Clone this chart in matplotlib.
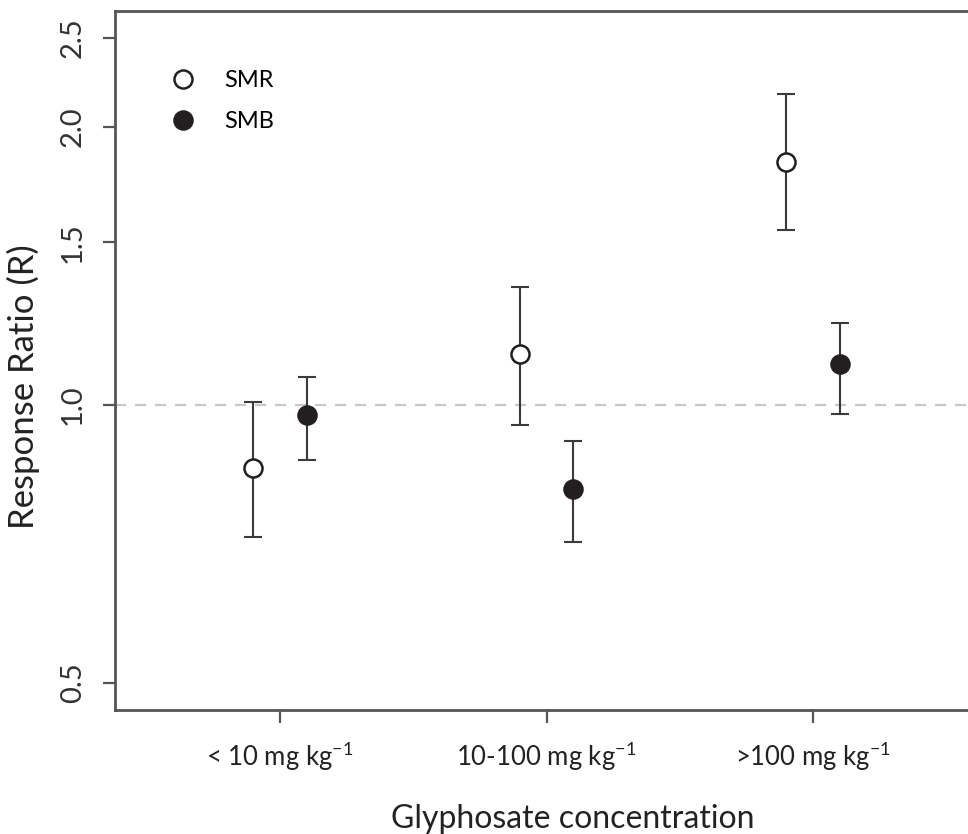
import numpy as np
import matplotlib
matplotlib.use('Agg')
import matplotlib.pyplot as plt

plt.rcParams['font.family'] = ['Lato', 'DejaVu Sans']
plt.rcParams['mathtext.default'] = 'regular'

categories = ['< 10 mg kg$^{-1}$', '10-100 mg kg$^{-1}$', '>100 mg kg$^{-1}$']

smr_mean = [0.854, 1.136, 1.832]
smr_low = [0.719, 0.952, 1.546]
smr_high = [1.007, 1.342, 2.174]

smb_mean = [0.975, 0.810, 1.107]
smb_low = [0.871, 0.711, 0.978]
smb_high = [1.073, 0.913, 1.227]

y_ticks = [0.5, 1.0, 1.5, 2.0, 2.5]

dark = '#231f20'
axis_col = '#555555'

fig = plt.figure(figsize=(9.68, 8.34), dpi=100)
ax = fig.add_axes([0.1188, 0.1487, 0.895, 0.838])

x = np.arange(1, len(categories) + 1)
offset = 0.1

# reference line at R = 1
ax.axhline(1.0, color='#c8c8c8', linewidth=1.6, linestyle=(0, (5, 4)), zorder=1)


def draw_series(xs, mean, low, high, face, label):
    mean = np.array(mean)
    err = [mean - np.array(low), np.array(high) - mean]
    ax.errorbar(xs, mean, yerr=err, fmt='none', ecolor='#3a3a3a',
                elinewidth=1.5, capsize=6.5, capthick=1.5, zorder=2)
    ax.plot(xs, mean, 'o', markersize=13, markerfacecolor=face,
            markeredgecolor=dark, markeredgewidth=1.8, linestyle='none',
            label=label, zorder=3)


draw_series(x - offset, smr_mean, smr_low, smr_high, 'white', 'SMR')
draw_series(x + offset, smb_mean, smb_low, smb_high, dark, 'SMB')

ax.set_yscale('log')
ax.set_ylim(0.467, 2.671)
ax.set_xlim(0.381, 3.631)
ax.set_yticks(y_ticks)
ax.set_yticklabels(['%.1f' % v for v in y_ticks], rotation=90, va='center',
                   fontsize=21, color='#333333')
ax.yaxis.set_minor_locator(matplotlib.ticker.NullLocator())
ax.set_xticks(x)
ax.set_xticklabels(categories, fontsize=18.5, color='#222222')

ax.tick_params(axis='y', length=9, width=1.6, color=axis_col, pad=12)
ax.tick_params(axis='x', length=9, width=1.6, color=axis_col, pad=13)

for side in ['left', 'bottom', 'top']:
    ax.spines[side].set_color(axis_col)
    ax.spines[side].set_linewidth(2)
ax.spines['right'].set_visible(False)

ax.set_ylabel('Response Ratio (R)', fontsize=25, color='#222222')
ax.yaxis.set_label_coords(-0.087, 0.462)
ax.set_xlabel('Glyphosate concentration', fontsize=23, color='#222222')
ax.xaxis.set_label_coords(0.528, -0.134)

leg = ax.legend(loc='upper left', bbox_to_anchor=(0.027, 0.946), frameon=False,
                fontsize=17, handletextpad=0.75, labelspacing=0.86, numpoints=1)

fig.savefig('out.png', dpi=100)
